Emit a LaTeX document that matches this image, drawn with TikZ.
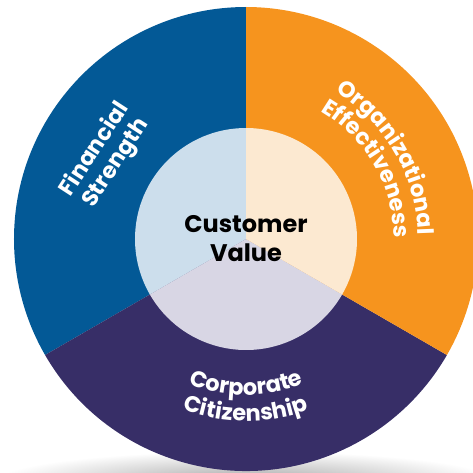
\documentclass[tikz,border=0pt]{standalone}
\usepackage{fontspec}
\setmainfont{Poppins}
\usetikzlibrary{decorations.text}
\definecolor{finblue}{RGB}{3,89,150}
\definecolor{orgorange}{RGB}{246,148,30}
\definecolor{corppurple}{RGB}{55,46,103}
\definecolor{finlight}{RGB}{204,222,236}
\definecolor{orglight}{RGB}{252,233,209}
\definecolor{corplight}{RGB}{216,214,228}
\newcommand\ringfont{\fontsize{22.5}{25}\bfseries\selectfont}
\newcommand\corefont{\fontsize{24}{29}\bfseries\selectfont}
\tikzset{
  ring label/.style={text=white, font=\ringfont, align=center, inner sep=0pt},
  core label/.style={text=black, font=\corefont, align=center, inner sep=0pt},
  arc text/.style={decorate, decoration={text along path, text={|\ringfont|#1},
    text align=center, text color=white}}
}
\begin{document}
\begin{tikzpicture}[x=1pt, y=1pt, line join=round, line cap=round]
		\def\rout{232} \def\rin{111}
		\useasboundingbox (-246,-233) rectangle (227,239);
		% shadow under the wheel
		\shade[inner color=black!35, outer color=white] (0,-242) ellipse [x radius=250, y radius=30];
		% outer ring
		\fill[finblue] (0,0)--(90:\rout) arc[start angle=90, end angle=210, radius=\rout]--cycle;
		\fill[corppurple] (0,0)--(210:\rout) arc[start angle=210, end angle=330, radius=\rout]--cycle;
		\fill[orgorange] (0,0)--(330:\rout) arc[start angle=330, end angle=450, radius=\rout]--cycle;
		% inner disc
		\fill[finlight] (0,0)--(90:\rin) arc[start angle=90, end angle=210, radius=\rin]--cycle;
		\fill[corplight] (0,0)--(210:\rin) arc[start angle=210, end angle=330, radius=\rin]--cycle;
		\fill[orglight] (0,0)--(330:\rin) arc[start angle=330, end angle=450, radius=\rin]--cycle;
		\node[core label] (value) at (0,0) {Customer\\Value};
		\node[ring label, rotate=57] (finance) at (149.5:163) {Financial\\Strength};
		\path[arc text=Organizational] (80:172) arc[start angle=80, end angle=-20, radius=172];
		\path[arc text=Effectiveness] (80:148) arc[start angle=80, end angle=-20, radius=148];
		\path[arc text=Corporate] (220:156) arc[start angle=220, end angle=320, radius=156];
		\path[arc text=Citizenship] (220:182) arc[start angle=220, end angle=320, radius=182];
	\end{tikzpicture}
\end{document}
